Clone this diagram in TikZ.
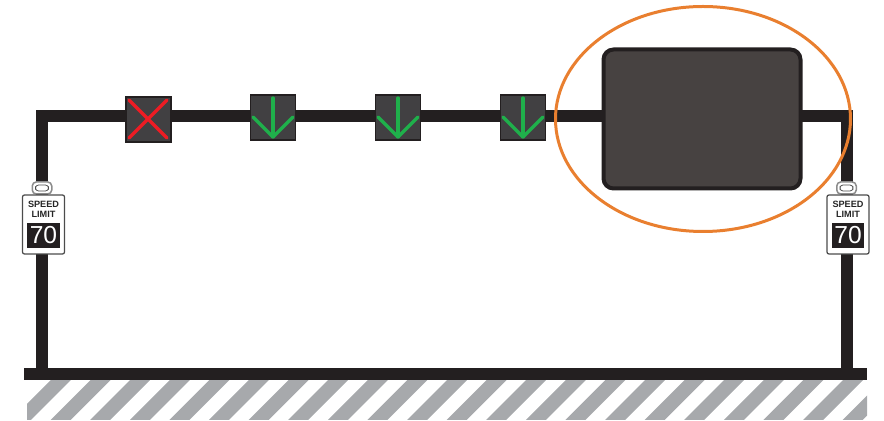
\documentclass[tikz,border=0pt]{standalone}
\usepackage{fontspec}
\setsansfont{Liberation Sans}
\usetikzlibrary{positioning,shapes.geometric}
\definecolor{barblack}{HTML}{231F20}
\definecolor{signalgrey}{HTML}{414042}
\definecolor{boardgrey}{HTML}{474241}
\definecolor{hatchgrey}{HTML}{A7A9AC}
\definecolor{ringorange}{HTML}{E97F2F}
\definecolor{crossred}{HTML}{ED1C24}
\definecolor{arrowgreen}{HTML}{1FB04B}
\tikzset{
  beam/.style={draw=barblack, line width=2.4mm, miter limit=10},
  signalbox/.style={draw=barblack, fill=signalgrey, line width=0.3mm, minimum width=9mm, minimum height=9mm, inner sep=0pt},
  signalmark/.style={line width=0.65mm, line cap=round, line join=round},
  signbox/.style={draw=black!70, fill=white, rounded corners=0.4mm, line width=0.25mm, minimum width=8.4mm, minimum height=11.8mm, inner sep=0pt},
  clampbox/.style={draw=black!45, fill=white, rounded corners=0.8mm, line width=0.3mm, minimum width=3.9mm, minimum height=2.4mm, inner sep=0pt},
  clamphole/.style={draw=black!70, fill=white, rounded corners=0.6mm, line width=0.15mm, minimum width=2.6mm, minimum height=1.2mm, inner sep=0pt},
  signtext/.style={font=\sffamily\bfseries\fontsize{5.2}{5.9}\selectfont, text=black!85, align=center, inner sep=0pt},
  speedbox/.style={fill=barblack, text=white, font=\sffamily\fontsize{14}{14}\selectfont, minimum width=6.4mm, minimum height=5mm, inner sep=0pt}
}

\begin{document}
\begin{tikzpicture}[x=0.2mm, y=-0.2mm]
  \useasboundingbox (0,0) rectangle (884,421);

  % Hatching under the road
  \begin{scope}
    \clip (27,380) rectangle (867,420);
    \foreach \k in {0,...,21} {
      \fill[hatchgrey] ({11+39.6*\k},420) -- ({31+39.6*\k},420) -- ({71+39.6*\k},380) -- ({51+39.6*\k},380) -- cycle;
    }
  \end{scope}

  % Gantry frame
  \coordinate (footl) at (42,374);
  \coordinate (cornerl) at (42,116);
  \coordinate (cornerr) at (847,116);
  \coordinate (footr) at (847,374);
  \draw[beam] (footl) -- (cornerl) -- (cornerr) -- (footr);
  \node[fill=barblack, minimum width=168.6mm, minimum height=2.4mm, inner sep=0pt] (ground) at (445.5,374) {};

  % Lane signals
  \node[signalbox] (sig1) at (148.5,119.5) {};
  \node[signalbox] (sig2) at (273,117.5) {};
  \node[signalbox] (sig3) at (398,117.5) {};
  \node[signalbox] (sig4) at (523,117.5) {};

  \draw[signalmark, crossred] (129,100) -- (167,138) (167,100) -- (129,138);
  \foreach \x in {273,398,523} {
    \draw[signalmark, arrowgreen] (\x,98) -- (\x,137);
    \draw[signalmark, arrowgreen] (\x-20,117) -- (\x,137) -- (\x+20,117);
  }

  % Message board
  \node[draw=barblack, fill=boardgrey, line width=0.8mm, rounded corners=2mm, minimum width=39.4mm, minimum height=27.8mm] (board) at (702,119) {};

  % Speed limit signs
  \foreach \s/\x in {l/43.5,r/848} {
    \node[clampbox] (clamp\s) at (\x-1.5,188) {};
    \node[clamphole] (hole\s) at (\x-1.5,188) {};
    \node[signbox] (sign\s) at (\x,224.5) {};
    \node[signtext] (text\s) at (\x,209) {SPEED\\LIMIT};
    \node[speedbox] (speed\s) at (\x,235.5) {70};
  }

  % Ring round the board
  \node[draw=ringorange, line width=0.6mm, ellipse, minimum width=59mm, minimum height=45mm, inner sep=0pt] (ring) at (703,119) {};
\end{tikzpicture}
\end{document}
